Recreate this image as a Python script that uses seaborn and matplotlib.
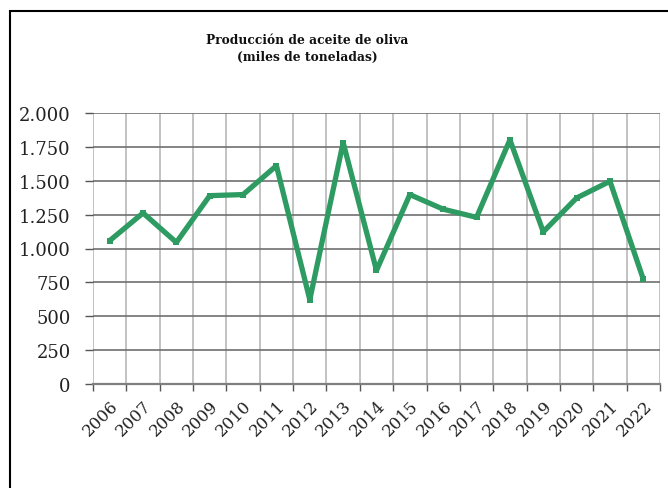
import matplotlib
matplotlib.use('Agg')
import matplotlib.pyplot as plt
import matplotlib.ticker as mticker
import numpy as np
import pandas as pd
import seaborn as sns

# values (miles de toneladas)
years = ['2006', '2007', '2008', '2009', '2010', '2011', '2012', '2013', '2014',
         '2015', '2016', '2017', '2018', '2019', '2020', '2021', '2022']
produccion = [1058, 1262, 1045, 1390, 1398, 1611, 622, 1782, 838,
              1398, 1290, 1230, 1802, 1123, 1373, 1496, 773]
y_ticks = [0, 250, 500, 750, 1000, 1250, 1500, 1750, 2000]

title = 'Producción de aceite de oliva\n(miles de toneladas)'

GREEN = '#2e9b62'

sns.set_theme(style='white')
plt.rcParams['font.family'] = ['DejaVu Serif']

df = pd.DataFrame({'year': years, 'prod': produccion})
df['pos'] = np.arange(len(df))

fig = plt.figure(figsize=(6.68, 4.89), dpi=100)
ax = fig.add_axes([93 / 668, 1 - 385 / 489, (660 - 93) / 668, (385 - 114) / 489])

sns.lineplot(data=df, x='pos', y='prod', ax=ax, color=GREEN, linewidth=3.8,
             marker='s', markersize=5, markeredgewidth=0, zorder=3)

ax.set_xlim(-0.5, len(years) - 0.5)
ax.set_ylim(0, 2000)
ax.set_xlabel('')
ax.set_ylabel('')

# category labels at centres, gridlines/ticks at the boundaries
ax.set_xticks(df['pos'])
ax.set_xticklabels(years, rotation=45, ha='right', rotation_mode='anchor',
                   fontsize=12, color='#222222')
ax.set_xticks(np.arange(-0.5, len(years)), minor=True)
ax.tick_params(axis='x', which='major', length=0, pad=9)
ax.tick_params(axis='x', which='minor', length=5, width=1, color='#555555',
               direction='out', bottom=True)
ax.grid(True, axis='x', which='minor', color='#bdbdbd', linewidth=1.3)

ax.set_yticks(y_ticks)
ax.yaxis.set_major_formatter(mticker.FuncFormatter(
    lambda v, p: f'{int(v):,}'.replace(',', '.')))
ax.tick_params(axis='y', which='major', length=6, width=1, color='#555555',
               direction='out', left=True, pad=10, labelsize=13,
               labelcolor='#222222')
ax.grid(True, axis='y', which='major', color='#6f6f6f', linewidth=1.2)
ax.set_axisbelow(True)

for side in ['top', 'right', 'left']:
    ax.spines[side].set_visible(False)
ax.spines['bottom'].set_color('#7f7f7f')
ax.spines['bottom'].set_linewidth(1.6)

fig.text(307 / 668, 1 - 49 / 489, title, ha='center', va='center',
         fontsize=8.8, fontweight='bold', color='#111111', linespacing=1.45)

# outer frame of the chart box, cut at right and bottom like the picture
frame = plt.Rectangle((10 / 668, -0.05), 1.0, 1 - 12 / 489 + 0.05,
                      transform=fig.transFigure, fill=False,
                      edgecolor='black', linewidth=1.5)
fig.patches.append(frame)

fig.savefig('out.png', dpi=100)
